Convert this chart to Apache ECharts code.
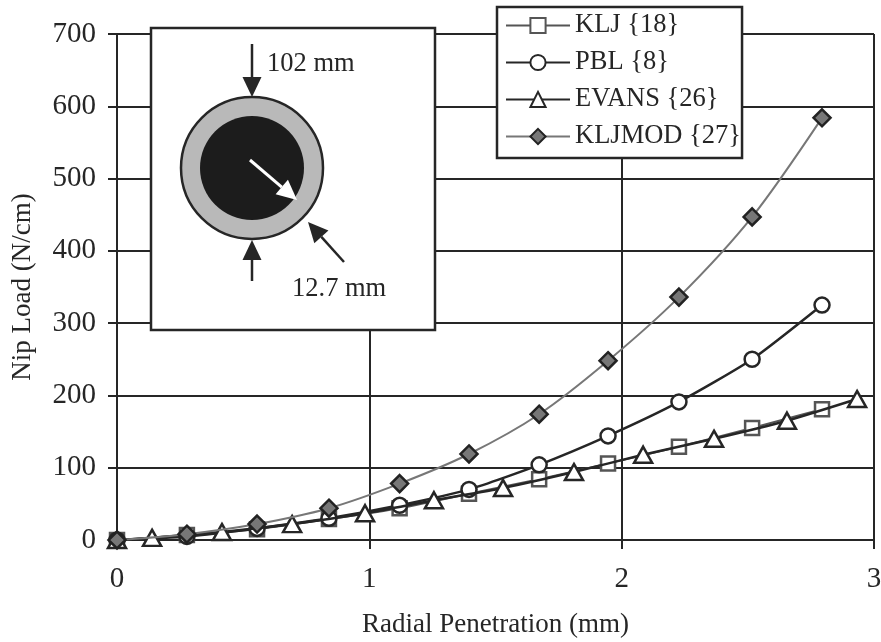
<!DOCTYPE html>
<html><head><meta charset="utf-8">
<style>html,body{margin:0;padding:0;background:#fff}#c{width:881px;height:642px}</style>
<script src="https://cdn.jsdelivr.net/npm/echarts@6/dist/echarts.min.js"></script>
</head><body><div id="c"></div>
<script>
const xMain = [0,0.277,0.555,0.84,1.12,1.395,1.673,1.946,2.227,2.517,2.794];
const xEvans = [0,0.139,0.416,0.694,0.983,1.256,1.53,1.811,2.085,2.366,2.655,2.933];
const klj = [0,7,15,29,44,64,84,106,129,155,181];
const pbl = [0,5,16,30,48,70,104,144,191,250,325];
const evans = [0,3,11,22,37,55,72,94,118,140,165,195];
const kljmod = [0,8,22,44,78,119,174,248,336,447,584];
const names = ['KLJ {18}','PBL {8}','EVANS {26}','KLJMOD {27}'];
const zip = (x,y)=>x.map((v,i)=>[v,y[i]]);
const font = 'Liberation Serif', ink = '#262626';
const ax = {
  axisLine:{show:true,onZero:false,lineStyle:{color:ink,width:2}},
  axisTick:{show:true,length:9,lineStyle:{color:ink,width:2}},
  splitLine:{show:true,lineStyle:{color:ink,width:2}},
  nameLocation:'middle',
  nameTextStyle:{fontFamily:font,fontSize:27,color:ink}
};
const chart = echarts.init(document.getElementById('c'),null,{renderer:'canvas'});
const arrow = (x1,y1,x2,y2,c,lw)=>{
  const a=Math.atan2(y2-y1,x2-x1),L=20,W=9.5,bx=x2-L*Math.cos(a),by=y2-L*Math.sin(a),nx=-Math.sin(a)*W,ny=Math.cos(a)*W;
  return [
    {type:'line',z:21,shape:{x1,y1,x2:bx,y2:by},style:{stroke:c,lineWidth:lw||2.5}},
    {type:'polygon',z:21,shape:{points:[[x2,y2],[bx+nx,by+ny],[bx-nx,by-ny]]},style:{fill:c}}
  ];
};
const label=(x,y,text)=>({type:'text',z:21,x,y,style:{text,fontFamily:font,fontSize:26.5,fill:ink,textVerticalAlign:'middle'}});
chart.setOption({
  animation:false,
  backgroundColor:'#fff',
  grid:{left:117,right:7,top:34,bottom:102,outerBoundsMode:'none'},
  xAxis:Object.assign({type:'value',min:0,max:3,interval:1,name:'Radial Penetration (mm)',nameGap:71,
    axisLabel:{fontFamily:font,fontSize:29,color:ink,margin:25}},ax),
  yAxis:Object.assign({type:'value',min:0,max:700,interval:100,name:'Nip Load (N/cm)',nameGap:81,
    axisLabel:{fontFamily:font,fontSize:29,color:ink,margin:21}},ax),
  legend:{
    left:497,top:7,orient:'vertical',itemWidth:64,itemHeight:19,itemGap:10,
    padding:[5,1,8,8],borderColor:ink,borderWidth:2.5,backgroundColor:'#fff',z:30,
    textStyle:{fontFamily:font,fontSize:26.5,color:ink},
    data:names
  },
  series:[
    {name:names[0],type:'line',z:3,data:zip(xMain,klj),smooth:0.2,symbol:'rect',symbolSize:14,
      lineStyle:{color:'#555',width:2},itemStyle:{color:'#fff',borderColor:'#555',borderWidth:2.5}},
    {name:names[1],type:'line',z:4,data:zip(xMain,pbl),smooth:0.2,symbol:'circle',symbolSize:15,
      lineStyle:{color:ink,width:2.5},itemStyle:{color:'#fff',borderColor:ink,borderWidth:2.5}},
    {name:names[2],type:'line',z:5,data:zip(xEvans,evans),smooth:0.2,symbol:'triangle',symbolSize:[18,16],
      lineStyle:{color:ink,width:2.5},itemStyle:{color:'#fff',borderColor:ink,borderWidth:2.5}},
    {name:names[3],type:'line',z:6,data:zip(xMain,kljmod),smooth:0.3,symbol:'diamond',symbolSize:17,
      lineStyle:{color:'#777',width:2},itemStyle:{color:'#777',borderColor:'#222',borderWidth:2.5}}
  ],
  graphic:[
    {type:'rect',z:20,shape:{x:151,y:28,width:284,height:302},style:{fill:'#fff',stroke:ink,lineWidth:2.5}},
    {type:'circle',z:21,shape:{cx:252,cy:168,r:71},style:{fill:'#b9b9b9',stroke:ink,lineWidth:2.5}},
    {type:'circle',z:21,shape:{cx:252,cy:168,r:52},style:{fill:'#1c1c1c'}},
    ...arrow(252,44,252,97,ink),
    ...arrow(252,281,252,240,ink),
    ...arrow(344,262,308,222,ink),
    ...arrow(250,160,297,200,'#fff',3),
    label(267,64,'102 mm'),
    label(292,289,'12.7 mm')
  ]
});
</script></body></html>
